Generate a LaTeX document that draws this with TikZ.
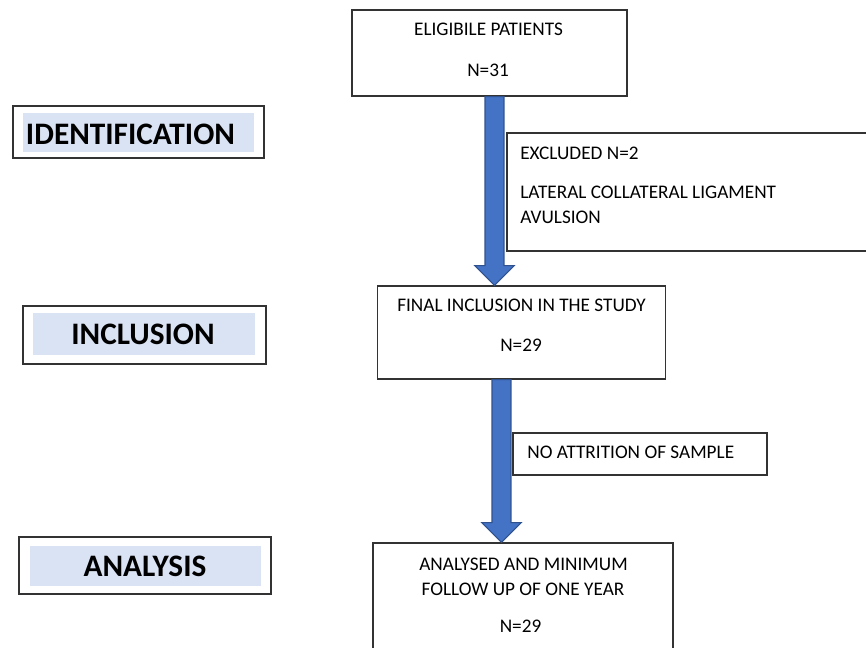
\documentclass[tikz,border=0pt]{standalone}
\usepackage{fontspec}
\setmainfont{Carlito}
\usetikzlibrary{positioning, calc}
\definecolor{arrowblue}{HTML}{4472C4}
\definecolor{arrowedge}{HTML}{2F528F}
\definecolor{bandblue}{HTML}{DAE3F3}
% block arrow from a start point straight down to its tip
\newcommand{\drawflow}[2]{%
  \filldraw[flowarrow] let \p1=(#1), \p2=(#2) in
    (\x1-5.4pt,\y1) -- (\x1-5.4pt,\y2+11.3pt) -- (\x1-11.3pt,\y2+11.3pt) --
    (\x1,\y2) -- (\x1+11.3pt,\y2+11.3pt) -- (\x1+5.4pt,\y2+11.3pt) --
    (\x1+5.4pt,\y1) -- cycle;}

\begin{document}
\begin{tikzpicture}[
  x=0.02cm, y=-0.02cm,
  every node/.style={font=\fontsize{10.95}{12}\selectfont, inner sep=0pt},
  flowbox/.style={draw=black!80, line width=0.7pt},
  stagebox/.style={draw=black!80, line width=0.7pt},
  stageband/.style={fill=bandblue},
  stagetext/.style={font=\fontsize{17.8}{19}\selectfont\bfseries},
  flowarrow/.style={fill=arrowblue, draw=arrowedge, line width=0.6pt}
]
\useasboundingbox (0,0) rectangle (866,648);
\clip (0,0) rectangle (866,648);

% Stage labels on the left
\node[stagebox, minimum width=5.02cm, minimum height=1.04cm] (ident) at (138.5,132) {};
\node[stageband, minimum width=4.62cm, minimum height=0.78cm] (ident-band) at (138.5,132.5) {};
\node[stagetext] (ident-text) at (130.5,134) {IDENTIFICATION};

\node[stagebox, minimum width=4.86cm, minimum height=1.16cm] (incl) at (144.5,335) {};
\node[stageband, minimum width=4.44cm, minimum height=0.84cm] (incl-band) at (144,334) {};
\node[stagetext] (incl-text) at (143,334) {INCLUSION};

\node[stagebox, minimum width=5.04cm, minimum height=1.14cm] (anal) at (145,565.5) {};
\node[stageband, minimum width=4.62cm, minimum height=0.8cm] (anal-band) at (145.5,566) {};
\node[stagetext] (anal-text) at (145,566) {ANALYSIS};

% Flow boxes
\node[flowbox, minimum width=5.5cm, minimum height=1.72cm] (elig) at (489.5,53) {};
\node (elig-title) at (488.5,29.5) {ELIGIBILE PATIENTS};
\node (elig-n) at (488,70.5) {N=31};

\node[flowbox, minimum width=7.26cm, minimum height=2.36cm] (excl) at (688.5,192) {};
\node[anchor=west] (excl-n) at (520,153.3) {EXCLUDED N=2};
\node[anchor=west] (excl-why) at (520,192.5) {LATERAL COLLATERAL LIGAMENT};
\node[anchor=west] (excl-why2) at (520,217.5) {AVULSION};

\node[flowbox, minimum width=5.76cm, minimum height=1.86cm] (final) at (521.5,332.5) {};
\node (final-title) at (521.5,305.5) {FINAL INCLUSION IN THE STUDY};
\node (final-n) at (521,345.5) {N=29};

\node[flowbox, minimum width=5.08cm, minimum height=0.84cm] (attr) at (640,454) {};
\node[anchor=west] (attr-text) at (527,452.5) {NO ATTRITION OF SAMPLE};

\node[flowbox, minimum width=6cm, minimum height=2.54cm] (done) at (523,606.5) {};
\node (done-title) at (523.5,564) {ANALYSED AND MINIMUM};
\node (done-title2) at (523,589) {FOLLOW UP OF ONE YEAR};
\node (done-n) at (520.5,626.5) {N=29};

% Arrows
\coordinate (a1) at ($(elig.south)+(5,0)$);
\coordinate (a2) at ($(final.south)+(-20,0)$);
\drawflow{a1}{a1 |- final.north}
\drawflow{a2}{a2 |- done.north}

\end{tikzpicture}
\end{document}
